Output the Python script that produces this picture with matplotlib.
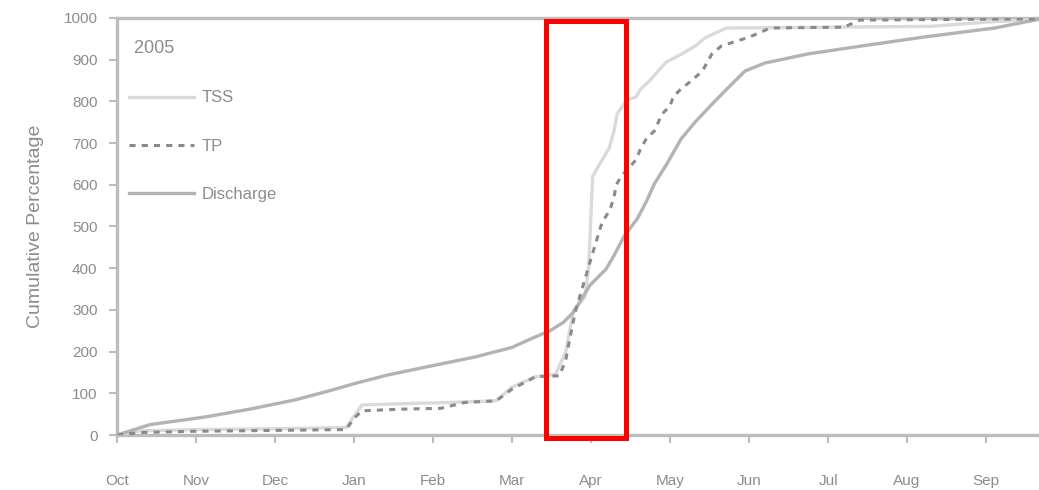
import numpy as np
import matplotlib
matplotlib.use("Agg")
import matplotlib.pyplot as plt
import matplotlib.patches as mpatches

plt.rcParams['font.family'] = ['Liberation Sans', 'DejaVu Sans']

# 横轴：水文年月份（10月起），以月为单位
month_labels = ["Oct", "Nov", "Dec", "Jan", "Feb", "Mar", "Apr",
                "May", "Jun", "Jul", "Aug", "Sep"]

# 累积曲线（读图估计，0-1000）
tss_t = [0, 0.3, 1.0, 2.0, 2.9, 3.0, 3.1, 3.6, 4.2, 4.8, 5.0, 5.3, 5.55, 5.68,
         5.78, 5.92, 5.97, 6.02, 6.10, 6.23, 6.29, 6.33, 6.45, 6.57, 6.63, 6.75,
         6.85, 6.95, 7.15, 7.32, 7.44, 7.71, 9.0, 10.3, 11.0, 11.67]
tss = [0, 10, 13, 15, 18, 45, 72, 75, 78, 82, 115, 140, 145, 200,
       300, 330, 400, 620, 647, 688, 729, 770, 803, 811, 830, 851,
       873, 894, 914, 933, 952, 976, 978, 980, 990, 997]

tp_t = [0, 0.3, 1.0, 2.0, 2.9, 3.0, 3.1, 3.6, 4.1, 4.4, 4.8, 5.0, 5.3, 5.6,
        5.68, 5.72, 5.8, 5.99, 6.14, 6.24, 6.29, 6.32, 6.38, 6.57, 6.63, 6.70,
        6.80, 6.90, 7.0, 7.04, 7.14, 7.28, 7.41, 7.53, 7.65, 8.0, 8.27, 9.2,
        9.4, 11.67]
tp = [0, 6, 9, 11, 13, 40, 58, 62, 64, 78, 82, 110, 140, 142,
      180, 220, 295, 417, 510, 540, 570, 600, 620, 660, 688, 710,
      729, 770, 789, 811, 830, 851, 873, 914, 933, 954, 976, 978,
      995, 998]

discharge_t = [0, 0.42, 1.11, 1.68, 2.25, 2.63, 3.04, 3.43, 3.96, 4.53, 5.0,
               5.23, 5.48, 5.65, 5.78, 5.99, 6.19, 6.29, 6.42, 6.59, 6.70, 6.80,
               6.95, 7.14, 7.32, 7.51, 7.72, 7.95, 8.20, 8.75, 9.43, 10.20,
               11.11, 11.67]
discharge = [0, 25, 43, 62, 84, 103, 125, 144, 165, 187, 210,
             230, 250, 270, 295, 360, 398, 430, 477, 520, 560, 602,
             647, 710, 751, 789, 830, 873, 892, 914, 933, 954,
             976, 997]

# 红框标出的时段（月）
highlight_start, highlight_end = 5.43, 6.44

AX_C = "#bdbdbd"
TXT_C = "#8c8c8c"

fig = plt.figure(figsize=(10.39, 4.90), dpi=100, facecolor="white")
ax = fig.add_axes([117 / 1039, 1 - 435 / 490, 1 - 117 / 1039, (435 - 18) / 490])

ax.plot(tss_t, tss, color="#dadada", lw=2.4, label="TSS", zorder=3)
ax.plot(tp_t, tp, color="#8a8a8a", lw=2.2, ls=(0, (2, 2)), label="TP", zorder=4)
ax.plot(discharge_t, discharge, color="#b3b3b3", lw=2.4, label="Discharge", zorder=3)

ax.set_xlim(0, 11.67)
ax.set_ylim(0, 1000)
ax.set_xticks(range(len(month_labels)))
ax.set_xticklabels(month_labels)
ax.set_yticks(np.arange(0, 1001, 100))
ax.set_ylabel("Cumulative Percentage", fontsize=14, color=TXT_C, labelpad=14)

for s in ["left", "bottom", "top"]:
    ax.spines[s].set_color(AX_C)
    ax.spines[s].set_linewidth(2.4)
ax.spines["right"].set_visible(False)
ax.tick_params(axis="both", colors=AX_C, labelcolor=TXT_C, labelsize=11,
               width=1.5, length=6)
ax.tick_params(axis="x", pad=22)
ax.tick_params(axis="y", pad=8)

# 红框
rect = mpatches.Rectangle((highlight_start, -6), highlight_end - highlight_start, 1000,
                          fill=False, edgecolor="#ff0000", lw=3.6,
                          clip_on=False, zorder=6)
ax.add_patch(rect)

leg = ax.legend(loc="upper left", bbox_to_anchor=(0.0, 0.975), frameon=False,
                title=" 2005", fontsize=12, title_fontsize=13,
                labelspacing=2.0, handlelength=3.9, handletextpad=0.5,
                borderaxespad=0.3, alignment="left")
for t in leg.get_texts():
    t.set_color(TXT_C)
leg.get_title().set_color(TXT_C)

fig.savefig("out.png", dpi=100, facecolor="white")
